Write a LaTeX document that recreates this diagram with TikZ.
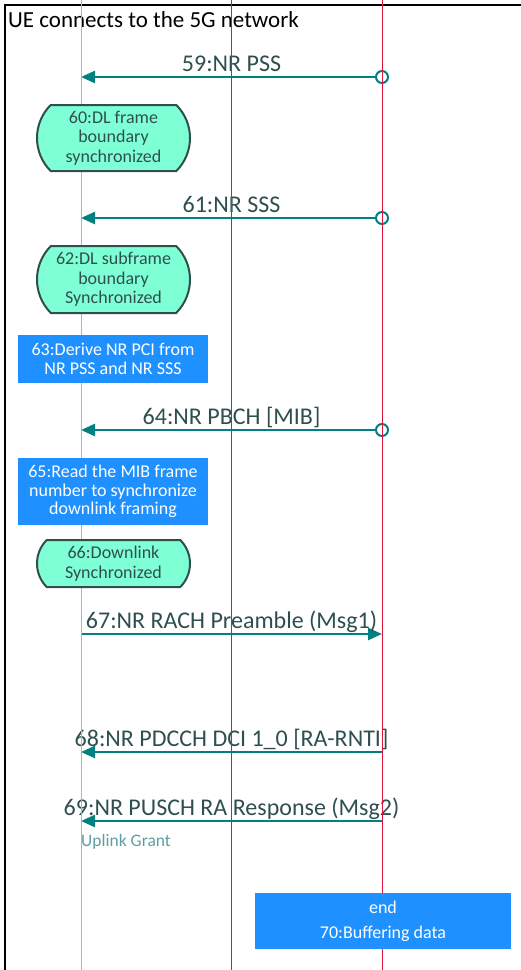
\documentclass[tikz,border=0pt]{standalone}
\usepackage{fontspec}
\setmainfont{Carlito}
\usetikzlibrary{positioning,arrows.meta,shapes.misc}
\definecolor{msgcol}{HTML}{008080}
\definecolor{lblcol}{HTML}{2F4F4F}
\definecolor{statefill}{HTML}{7FFFD4}
\definecolor{actfill}{HTML}{1E90FF}
\definecolor{uecol}{HTML}{DDA0A8}
\definecolor{corecol}{HTML}{1F7F1F}
\definecolor{gnbcol}{HTML}{DC143C}
\definecolor{grantcol}{HTML}{5F9EA0}

\begin{document}
\begin{tikzpicture}[x=1pt,y=-1pt]
 \tikzset{msg/.style={draw=msgcol,line width=2.5pt,-{Triangle[length=14pt,width=12pt]}},
  lbl/.style={anchor=base,yshift=6pt,inner sep=0pt,text=lblcol,font=\fontsize{24}{26}\selectfont},
  src/.style={circle,draw=msgcol,line width=2pt,minimum size=12pt,inner sep=0pt},
  state/.style={rounded rectangle,rounded rectangle arc length=90,draw=lblcol,line width=2pt,fill=statefill,
   text=lblcol,minimum width=157pt,inner sep=2pt,align=center,font=\fontsize{18}{19.5}\selectfont},
  action/.style={rectangle,fill=actfill,text=white,minimum width=190pt,inner sep=0pt,align=center,
   font=\fontsize{18}{18.5}\selectfont}}
 \useasboundingbox (0,0) rectangle (520,970);

 \draw[line width=2.5pt] (5,975) -- (5,4.8) -- (525,4.8);
 \node[anchor=base west,inner sep=0pt,font=\fontsize{23}{25}\selectfont] (title) at (8,27) {UE connects to the 5G network};

 \foreach \n/\y in {59/77,61/218,64/430,67/634,68/752,69/821}{
  \coordinate (ue\n) at (81,\y);
  \coordinate (gnb\n) at (382,\y);
 }
 \foreach \n in {59,61,64}
  \node[src] (src\n) at (gnb\n) {};

 \draw[msg,shorten <=6pt] (gnb59) to node[lbl] {59:NR PSS} (ue59);
 \draw[msg,shorten <=6pt] (gnb61) to node[lbl] {61:NR SSS} (ue61);
 \draw[msg,shorten <=6pt] (gnb64) to node[lbl] {64:NR PBCH [MIB]} (ue64);
 \draw[msg] (ue67) to node[lbl] {67:NR RACH Preamble (Msg1)} (gnb67);
 \draw[msg] (gnb68) to node[lbl] {68:NR PDCCH DCI 1\_0 [RA-RNTI]} (ue68);
 \draw[msg] (gnb69) to node[lbl] {69:NR PUSCH RA Response (Msg2)} (ue69);
 \node[anchor=west,inner sep=0pt,text=grantcol,font=\fontsize{17.5}{19}\selectfont] (grant) at (81,842) {Uplink Grant};

 \foreach \x/\c/\w in {81/uecol/1,231.5/corecol/1.2,382/gnbcol/1}
  \draw[\c,line width=\w pt] (\x,0) -- (\x,970);

 \node[state,minimum height=66pt] (s60) at (113.5,138) {60:DL frame\\boundary\\synchronized};
 \node[state,minimum height=67pt] (s62) at (113.5,279.5) {62:DL subframe\\boundary\\Synchronized};
 \node[action,minimum height=48pt] (a63) at (113,359) {63:Derive NR PCI from\\NR PSS and NR SSS};
 \node[action,minimum height=67pt] (a65) at (113,491.5) {65:Read the MIB frame\\number to synchronize\\downlink framing};
 \node[state,minimum height=47pt] (s66) at (113.5,563.5) {66:Downlink\\Synchronized};
 \node[action,minimum width=256pt,minimum height=56pt,font=\fontsize{18}{25}\selectfont] (a70) at (383,921) {end\\70:Buffering data};
\end{tikzpicture}
\end{document}
